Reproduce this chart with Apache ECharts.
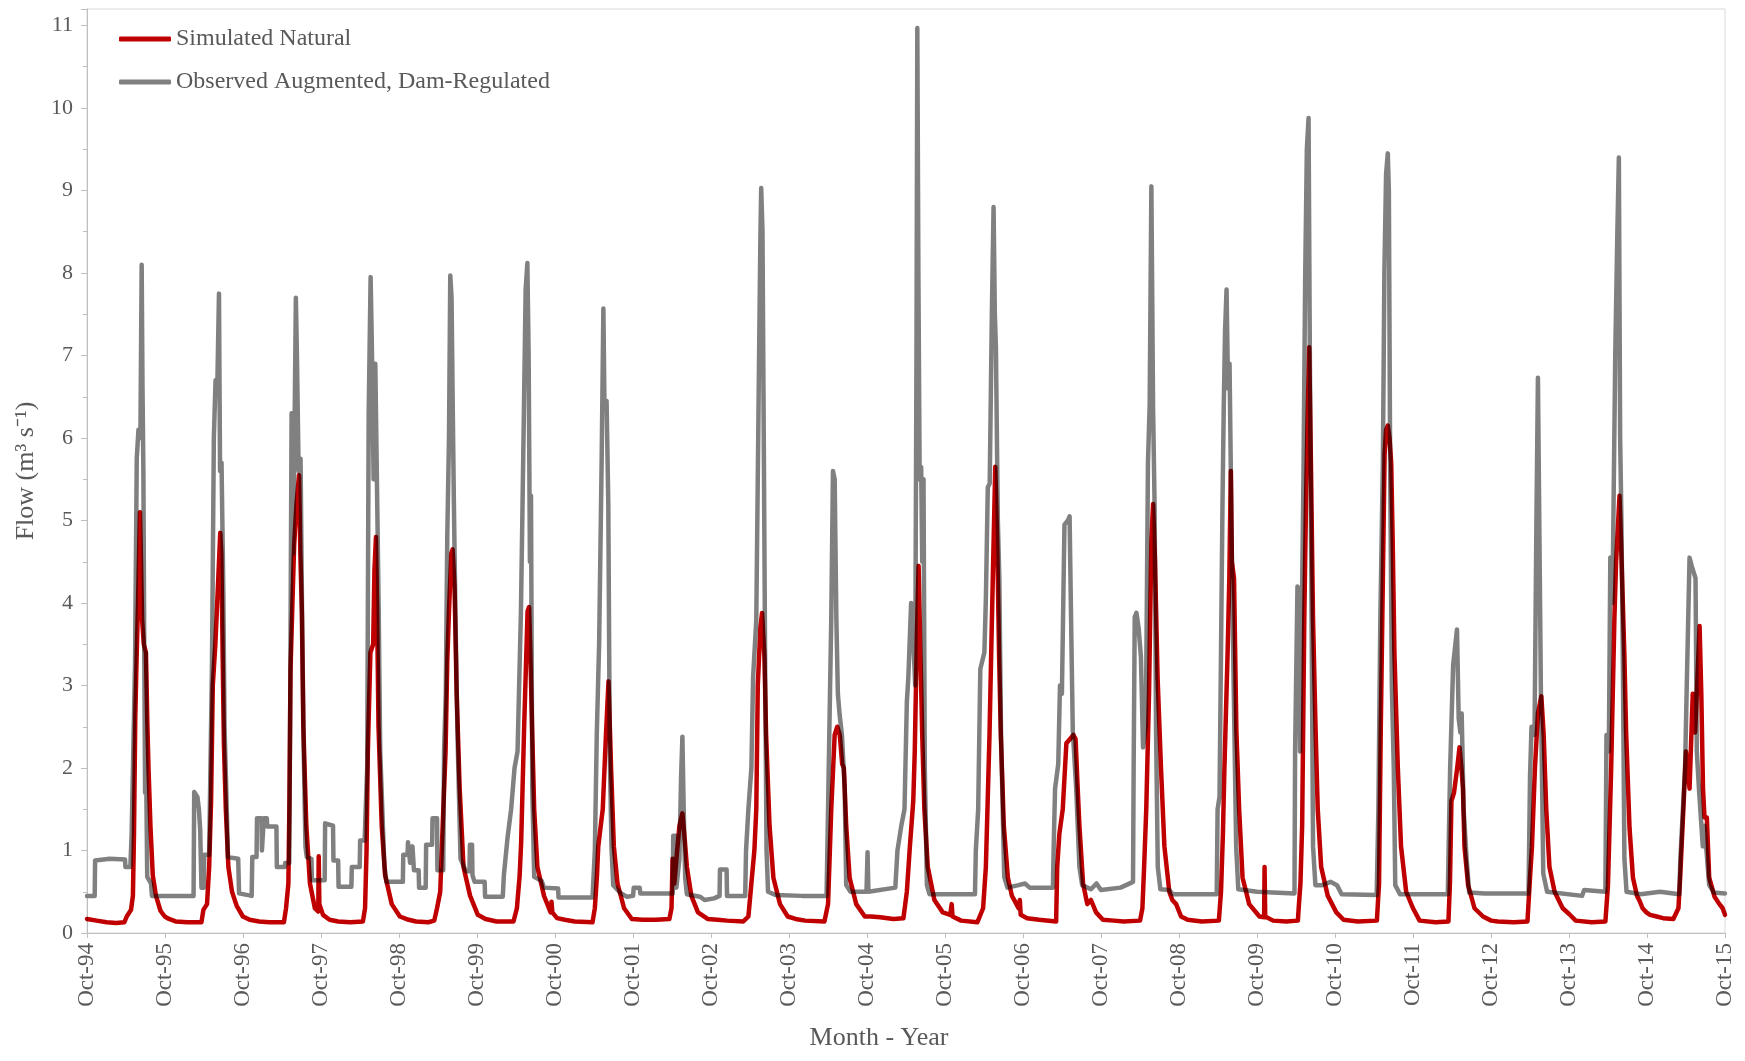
<!DOCTYPE html>
<html>
<head>
<meta charset="utf-8">
<title>Simulated natural vs observed flow</title>
<script src="https://cdn.jsdelivr.net/npm/echarts@6/dist/echarts.min.js"></script>
<style>
  html, body { margin: 0; padding: 0; background: #ffffff; }
  #wrap { position: relative; width: 1745px; height: 1061px; background: #ffffff; }
  #base, #over { position: absolute; left: 0; top: 0; width: 1745px; height: 1061px; }
  /* the simulated series is multiplied onto the observed one so overlaps read dark */
  #over { mix-blend-mode: multiply; pointer-events: none; }
</style>
</head>
<body>
<div id="wrap">
  <div id="base"></div>
  <div id="over"></div>
</div>
<script>
// Daily flow, m3/s, read as breakpoints of each water year (Oct 1994 - Sep 2015)
const simulatedNatural = [
  ['1994-10-01',0.17],['1994-11-15',0.15],['1995-01-01',0.13],['1995-02-15',0.12],['1995-03-25',0.13],['1995-04-05',0.2],['1995-04-25',0.28],['1995-05-04',0.45],['1995-05-09',1.2],['1995-05-15',2.6],['1995-05-21',3.3],['1995-05-28',4.0],['1995-06-06',5.1],['1995-06-10',4.6],['1995-06-16',3.8],['1995-06-24',3.5],['1995-07-04',3.4],['1995-07-10',2.6],['1995-07-16',2.0],['1995-07-25',1.3],['1995-08-05',0.7],['1995-08-20',0.45],['1995-09-10',0.27],['1995-09-30',0.2],
  ['1995-10-20',0.17],['1995-11-20',0.14],['1996-01-15',0.13],['1996-03-20',0.13],['1996-03-29',0.28],['1996-04-15',0.35],['1996-04-25',0.8],['1996-05-04',1.6],['1996-05-12',3.0],['1996-05-24',3.5],['1996-06-05',4.2],['1996-06-16',4.85],['1996-06-21',4.6],['1996-06-27',3.4],['1996-07-03',2.3],['1996-07-12',1.5],['1996-07-24',0.8],['1996-08-10',0.5],['1996-09-01',0.33],['1996-09-30',0.2],
  ['1996-11-01',0.16],['1996-12-15',0.14],['1997-02-01',0.13],['1997-04-10',0.13],['1997-04-20',0.3],['1997-05-01',0.6],['1997-05-06',1.6],['1997-05-11',3.2],['1997-05-20',4.0],['1997-05-28',4.7],['1997-06-08',5.2],['1997-06-20',5.55],['1997-06-26',4.6],['1997-07-03',3.9],['1997-07-10',2.5],['1997-07-24',1.3],['1997-08-10',0.6],['1997-09-02',0.3],['1997-09-18',0.26],['1997-09-20',0.93],['1997-09-23',0.35],['1997-10-10',0.22],
  ['1997-11-10',0.16],['1997-12-20',0.14],['1998-02-15',0.13],['1998-04-15',0.14],['1998-04-25',0.3],['1998-05-02',1.0],['1998-05-08',2.2],['1998-05-20',3.4],['1998-06-02',3.5],['1998-06-08',4.4],['1998-06-15',4.8],['1998-06-20',4.0],['1998-06-27',2.5],['1998-07-12',1.3],['1998-07-28',0.7],['1998-08-28',0.35],['1998-10-05',0.2],
  ['1998-11-15',0.16],['1998-12-20',0.14],['1999-02-15',0.13],['1999-03-15',0.15],['1999-03-28',0.3],['1999-04-12',0.5],['1999-04-22',1.2],['1999-05-01',1.8],['1999-05-07',2.2],['1999-05-15',3.3],['1999-05-23',3.9],['1999-06-03',4.6],['1999-06-09',4.65],['1999-06-18',4.2],['1999-06-28',2.9],['1999-07-12',1.75],['1999-07-30',0.8],['1999-08-30',0.45],['1999-10-05',0.22],
  ['1999-11-10',0.17],['2000-01-01',0.14],['2000-03-20',0.14],['2000-04-05',0.3],['2000-04-18',0.7],['2000-04-25',1.1],['2000-05-09',2.5],['2000-05-25',3.9],['2000-06-01',3.95],['2000-06-07',3.4],['2000-06-15',2.5],['2000-06-25',1.5],['2000-07-10',0.8],['2000-08-10',0.45],['2000-09-10',0.25],['2000-09-14',0.38],['2000-09-18',0.25],['2000-10-10',0.18],
  ['2000-11-15',0.16],['2001-01-01',0.14],['2001-03-25',0.13],['2001-04-05',0.3],['2001-04-15',0.7],['2001-04-21',1.05],['2001-05-12',1.5],['2001-05-27',2.4],['2001-06-08',3.05],['2001-06-20',2.0],['2001-07-03',1.05],['2001-07-20',0.6],['2001-08-20',0.3],['2001-09-25',0.17],
  ['2001-11-15',0.16],['2002-01-15',0.16],['2002-03-20',0.17],['2002-03-30',0.3],['2002-04-04',0.9],['2002-04-12',0.6],['2002-04-22',0.9],['2002-05-06',1.3],['2002-05-20',1.45],['2002-06-01',1.1],['2002-06-10',0.8],['2002-07-01',0.45],['2002-08-01',0.25],['2002-09-15',0.17],
  ['2002-11-01',0.16],['2002-12-15',0.15],['2003-03-01',0.14],['2003-03-25',0.2],['2003-04-08',0.6],['2003-04-22',1.0],['2003-05-01',1.5],['2003-05-08',3.0],['2003-05-20',3.7],['2003-05-28',3.88],['2003-06-08',3.35],['2003-06-16',2.4],['2003-07-02',1.3],['2003-07-20',0.67],['2003-08-20',0.35],['2003-09-25',0.2],
  ['2003-11-01',0.17],['2003-12-15',0.15],['2004-03-15',0.14],['2004-04-01',0.35],['2004-04-16',1.5],['2004-05-02',2.4],['2004-05-14',2.5],['2004-05-26',2.4],['2004-06-06',2.05],['2004-06-14',2.0],['2004-06-25',1.3],['2004-07-11',0.67],['2004-08-11',0.35],['2004-09-20',0.2],
  ['2004-10-20',0.2],['2004-12-01',0.19],['2005-02-01',0.17],['2005-03-20',0.18],['2005-04-05',0.5],['2005-04-19',1.04],['2005-05-05',1.6],['2005-05-12',2.2],['2005-05-22',3.6],['2005-05-30',4.45],['2005-06-07',3.45],['2005-06-16',2.4],['2005-06-26',1.5],['2005-07-12',0.8],['2005-08-12',0.4],['2005-09-20',0.25],
  ['2005-10-25',0.22],['2005-11-01',0.35],['2005-11-05',0.2],['2005-12-15',0.15],['2006-03-01',0.13],['2006-03-28',0.3],['2006-04-10',0.8],['2006-04-27',2.4],['2006-05-05',3.4],['2006-05-15',4.6],['2006-05-24',5.65],['2006-06-02',4.75],['2006-06-11',3.35],['2006-06-19',2.4],['2006-07-03',1.3],['2006-07-22',0.67],['2006-08-10',0.45],['2006-08-25',0.38],['2006-09-10',0.3],['2006-09-16',0.4],['2006-09-20',0.22],
  ['2006-10-20',0.18],['2006-12-15',0.16],['2007-03-05',0.14],['2007-03-10',0.8],['2007-03-20',1.2],['2007-04-05',1.5],['2007-04-22',2.3],['2007-05-25',2.4],['2007-06-04',2.35],['2007-06-14',1.75],['2007-06-22',1.3],['2007-07-09',0.6],['2007-07-29',0.35],['2007-08-15',0.4],['2007-09-08',0.25],['2007-10-10',0.16],
  ['2007-12-01',0.15],['2008-01-15',0.14],['2008-04-01',0.15],['2008-04-12',0.3],['2008-04-20',0.8],['2008-04-30',1.5],['2008-05-13',2.9],['2008-05-24',4.75],['2008-06-01',5.2],['2008-06-10',4.5],['2008-06-22',3.1],['2008-07-08',2.0],['2008-07-24',1.05],['2008-08-16',0.5],['2008-08-30',0.4],['2008-09-17',0.35],['2008-10-10',0.2],
  ['2008-11-10',0.16],['2009-01-15',0.14],['2009-04-05',0.15],['2009-04-15',0.5],['2009-04-24',1.2],['2009-05-01',2.0],['2009-05-16',3.4],['2009-05-24',4.3],['2009-05-31',5.6],['2009-06-05',4.5],['2009-06-15',4.3],['2009-06-26',2.45],['2009-07-09',1.5],['2009-07-25',0.67],['2009-08-25',0.35],['2009-10-12',0.2],['2009-11-03',0.19],['2009-11-05',0.8],['2009-11-08',0.2],
  ['2009-12-15',0.15],['2010-02-15',0.14],['2010-04-10',0.15],['2010-04-15',0.35],['2010-04-22',0.6],['2010-04-30',1.3],['2010-05-10',3.8],['2010-05-18',5.2],['2010-05-26',6.3],['2010-06-02',7.1],['2010-06-10',5.7],['2010-06-20',3.8],['2010-07-02',2.45],['2010-07-12',1.5],['2010-07-28',0.8],['2010-08-28',0.45],['2010-10-07',0.25],
  ['2010-11-10',0.16],['2011-01-15',0.14],['2011-04-15',0.15],['2011-04-25',0.6],['2011-05-03',2.45],['2011-05-13',4.3],['2011-05-21',5.8],['2011-05-28',6.1],['2011-06-05',6.15],['2011-06-13',6.0],['2011-06-21',5.7],['2011-06-28',4.75],['2011-07-06',3.4],['2011-07-22',2.0],['2011-08-06',1.05],['2011-08-30',0.5],['2011-10-01',0.3],
  ['2011-11-01',0.15],['2012-01-15',0.13],['2012-03-15',0.14],['2012-03-22',0.6],['2012-03-29',1.6],['2012-04-10',1.7],['2012-04-25',2.0],['2012-05-06',2.25],['2012-05-15',2.0],['2012-05-22',1.75],['2012-05-29',1.05],['2012-06-15',0.58],['2012-07-15',0.3],['2012-08-24',0.2],['2012-10-01',0.15],
  ['2012-11-01',0.14],['2013-01-15',0.13],['2013-03-20',0.14],['2013-04-01',0.67],['2013-04-10',1.04],['2013-04-24',2.0],['2013-05-08',2.66],['2013-05-24',2.87],['2013-06-04',2.4],['2013-06-16',1.5],['2013-07-01',0.8],['2013-07-25',0.5],['2013-09-01',0.3],['2013-10-01',0.23],
  ['2013-11-01',0.15],['2014-01-15',0.13],['2014-03-20',0.14],['2014-04-01',0.58],['2014-04-16',2.0],['2014-05-01',3.8],['2014-05-09',4.5],['2014-05-25',5.3],['2014-06-01',4.75],['2014-06-09',4.05],['2014-06-17',3.35],['2014-06-25',2.43],['2014-07-11',1.27],['2014-07-27',0.67],['2014-08-15',0.45],['2014-08-27',0.39],['2014-09-10',0.3],['2014-09-28',0.25],
  ['2014-10-15',0.22],['2014-11-15',0.2],['2014-12-15',0.18],['2015-02-01',0.17],['2015-02-25',0.3],['2015-03-05',0.67],['2015-03-20',1.5],['2015-04-01',2.2],['2015-04-18',1.75],['2015-05-03',2.9],['2015-05-14',2.43],['2015-05-22',2.9],['2015-06-04',3.72],['2015-06-12',2.9],['2015-06-20',1.75],['2015-06-27',1.4],['2015-07-08',1.4],['2015-07-19',0.67],['2015-08-13',0.44],['2015-09-05',0.35],['2015-09-20',0.3],['2015-10-01',0.22]
];

const observedAugmented = [
  ['1994-10-01',0.45],['1994-11-06',0.45],['1994-11-08',0.88],['1995-01-15',0.9],['1995-03-28',0.89],['1995-03-30',0.8],['1995-04-22',0.8],['1995-04-28',1.2],['1995-05-08',2.5],['1995-05-14',3.3],['1995-05-22',5.75],['1995-05-30',6.1],['1995-06-08',6.0],['1995-06-14',8.1],['1995-06-18',6.6],['1995-06-22',5.6],['1995-06-26',3.5],['1995-06-30',1.7],['1995-07-03',3.4],['1995-07-06',1.7],['1995-07-10',0.68],['1995-07-28',0.6],['1995-08-01',0.45],
  ['1996-02-12',0.45],['1996-02-15',1.71],['1996-03-01',1.65],['1996-03-08',1.5],['1996-03-14',1.25],['1996-03-20',0.55],['1996-03-30',0.55],['1996-04-02',0.95],['1996-04-25',0.95],['1996-05-01',2.0],['1996-05-08',3.2],['1996-05-17',6.0],['1996-05-25',6.7],['1996-06-02',6.6],['1996-06-10',7.75],['1996-06-15',5.6],['1996-06-22',5.7],['1996-06-30',4.2],['1996-07-06',2.5],['1996-07-14',1.75],['1996-07-22',0.92],['1996-09-08',0.9],['1996-09-12',0.48],['1996-11-10',0.45],
  ['1996-11-13',0.92],['1996-12-03',0.92],['1996-12-05',1.39],['1996-12-26',1.39],['1996-12-28',1.0],['1997-01-04',1.0],['1997-01-06',1.39],['1997-01-20',1.39],['1997-01-22',1.29],['1997-03-06',1.29],['1997-03-08',0.8],['1997-04-14',0.8],['1997-04-16',0.85],['1997-05-05',0.85],['1997-05-09',2.5],['1997-05-16',6.3],['1997-05-24',4.6],['1997-06-05',7.7],['1997-06-10',7.0],['1997-06-18',5.6],['1997-06-27',5.75],['1997-07-04',3.9],['1997-07-12',2.2],['1997-07-20',1.05],['1997-07-26',0.92],['1997-08-17',0.9],['1997-08-19',0.64],['1997-10-18',0.64],['1997-10-20',1.33],['1997-11-26',1.3],['1997-11-28',0.88],['1997-12-20',0.88],['1997-12-22',0.56],['1998-02-20',0.56],['1998-02-22',0.8],['1998-03-31',0.8],['1998-04-02',1.12],['1998-04-23',1.12],
  ['1998-04-28',1.5],['1998-05-05',2.0],['1998-05-12',6.3],['1998-05-21',7.95],['1998-05-27',7.1],['1998-06-04',5.5],['1998-06-12',6.9],['1998-06-20',6.9],['1998-06-28',3.9],['1998-07-05',2.2],['1998-07-21',1.05],['1998-07-25',0.8],['1998-08-01',0.8],['1998-08-03',0.62],['1998-10-19',0.62],
  ['1998-10-21',0.95],['1998-11-10',0.95],['1998-11-12',1.1],['1998-11-20',1.1],['1998-11-22',0.85],['1998-12-01',0.85],['1998-12-03',1.05],['1998-12-08',1.05],['1998-12-10',0.76],['1999-01-01',0.76],['1999-01-03',0.55],['1999-02-03',0.55],['1999-02-05',1.07],['1999-03-05',1.07],['1999-03-07',1.39],['1999-03-28',1.39],['1999-03-30',0.76],['1999-04-26',0.76],['1999-04-30',2.2],['1999-05-08',2.9],['1999-05-15',4.8],['1999-05-23',6.0],['1999-05-29',7.97],['1999-06-04',7.7],['1999-06-10',6.3],['1999-06-15',5.2],['1999-06-22',3.9],['1999-07-01',2.5],['1999-07-08',1.75],['1999-07-16',0.9],['1999-08-10',0.75],['1999-08-27',0.75],['1999-08-29',1.07],['1999-09-08',1.07],['1999-09-10',0.7],['1999-09-20',0.62],['1999-11-06',0.62],['1999-11-08',0.44],
  ['2000-01-30',0.44],['2000-02-04',0.7],['2000-02-21',1.15],['2000-03-09',1.5],['2000-03-25',2.0],['2000-04-08',2.2],['2000-04-24',3.9],['2000-05-02',5.3],['2000-05-08',6.35],['2000-05-16',7.8],['2000-05-24',8.12],['2000-05-30',7.0],['2000-06-05',4.5],['2000-06-10',5.3],['2000-06-16',1.75],['2000-06-25',0.68],['2000-07-30',0.63],['2000-08-10',0.55],['2000-10-15',0.54],['2000-10-17',0.43],
  ['2001-03-25',0.43],['2001-04-05',1.0],['2001-04-14',2.4],['2001-04-25',3.5],['2001-05-07',5.75],['2001-05-15',7.57],['2001-05-20',6.4],['2001-05-30',6.45],['2001-06-07',5.2],['2001-06-14',2.2],['2001-06-22',1.04],['2001-06-30',0.58],['2001-08-01',0.49],['2001-09-01',0.44],['2001-10-01',0.45],['2001-10-04',0.55],['2001-11-01',0.55],['2001-11-04',0.48],
  ['2002-04-05',0.48],['2002-04-07',1.18],['2002-04-20',1.18],['2002-04-22',0.55],['2002-05-06',0.9],['2002-05-14',1.9],['2002-05-20',2.38],['2002-05-26',1.5],['2002-06-02',0.67],['2002-06-10',0.47],['2002-08-10',0.44],['2002-09-01',0.4],['2002-10-15',0.42],['2002-11-10',0.45],['2002-11-12',0.77],['2002-12-13',0.77],['2002-12-15',0.45],
  ['2003-03-10',0.45],['2003-03-14',1.0],['2003-03-25',1.5],['2003-04-08',2.0],['2003-04-16',3.1],['2003-05-01',3.8],['2003-05-12',6.5],['2003-05-20',8.4],['2003-05-24',9.03],['2003-05-30',8.5],['2003-06-05',6.0],['2003-06-12',3.0],['2003-06-18',1.0],['2003-06-25',0.5],['2003-08-01',0.46],['2003-12-01',0.45],
  ['2004-03-25',0.45],['2004-04-01',1.5],['2004-04-10',2.9],['2004-04-16',3.8],['2004-04-24',5.6],['2004-05-02',5.5],['2004-05-10',3.8],['2004-05-17',2.9],['2004-05-25',2.65],['2004-06-05',2.4],['2004-06-18',1.75],['2004-06-25',0.58],['2004-07-15',0.5],['2004-09-28',0.5],['2004-10-03',0.98],['2004-10-07',0.5],
  ['2005-02-10',0.55],['2005-02-20',1.0],['2005-03-10',1.3],['2005-03-25',1.5],['2005-04-05',2.8],['2005-04-12',3.1],['2005-04-25',4.0],['2005-05-06',3.5],['2005-05-14',3.0],['2005-05-20',7.0],['2005-05-24',10.97],['2005-05-29',8.0],['2005-06-04',5.5],['2005-06-11',5.65],['2005-06-16',4.5],['2005-06-22',5.5],['2005-06-28',2.0],['2005-07-08',0.58],['2005-07-20',0.47],
  ['2006-02-18',0.47],['2006-02-22',1.0],['2006-03-05',1.5],['2006-03-15',3.2],['2006-04-03',3.4],['2006-04-10',4.05],['2006-04-19',5.4],['2006-04-28',5.45],['2006-05-08',7.5],['2006-05-16',8.8],['2006-05-22',7.5],['2006-05-27',7.1],['2006-06-05',5.0],['2006-06-12',4.3],['2006-06-20',2.4],['2006-07-05',0.68],['2006-07-20',0.55],['2006-09-10',0.58],['2006-10-10',0.6],['2006-11-01',0.55],
  ['2007-02-18',0.55],['2007-02-22',1.1],['2007-02-28',1.75],['2007-03-15',2.05],['2007-03-23',3.0],['2007-04-01',2.9],['2007-04-13',4.95],['2007-04-29',5.0],['2007-05-07',5.05],['2007-05-14',3.8],['2007-05-22',2.45],['2007-06-07',1.75],['2007-06-22',0.8],['2007-07-05',0.58],['2007-08-15',0.53],['2007-09-10',0.6],['2007-10-01',0.52],['2008-01-01',0.55],
  ['2008-02-28',0.62],['2008-03-02',2.0],['2008-03-07',3.83],['2008-03-15',3.88],['2008-03-25',3.7],['2008-04-05',3.35],['2008-04-15',2.25],['2008-04-28',2.5],['2008-05-08',5.7],['2008-05-16',6.4],['2008-05-24',9.05],['2008-06-01',6.35],['2008-06-08',5.2],['2008-06-15',2.45],['2008-06-23',0.8],['2008-07-05',0.53],['2008-08-15',0.52],['2008-09-01',0.47],
  ['2009-03-26',0.47],['2009-03-30',1.5],['2009-04-08',1.65],['2009-04-15',3.4],['2009-04-22',5.2],['2009-04-28',6.4],['2009-05-04',7.3],['2009-05-11',7.8],['2009-05-18',6.6],['2009-05-25',6.9],['2009-05-31',5.6],['2009-06-06',4.3],['2009-06-14',2.9],['2009-06-25',1.05],['2009-07-05',0.53],['2009-10-01',0.5],
  ['2010-03-25',0.48],['2010-03-28',2.2],['2010-04-08',4.2],['2010-04-15',4.1],['2010-04-20',2.2],['2010-04-28',3.8],['2010-05-06',5.5],['2010-05-14',7.9],['2010-05-22',9.5],['2010-05-30',9.88],['2010-06-05',7.0],['2010-06-12',4.3],['2010-06-20',1.05],['2010-07-01',0.58],['2010-08-01',0.58],['2010-09-10',0.62],['2010-10-10',0.58],['2010-11-01',0.47],
  ['2011-04-14',0.46],['2011-04-22',1.5],['2011-05-01',3.8],['2011-05-13',5.7],['2011-05-20',8.0],['2011-05-28',9.2],['2011-06-05',9.45],['2011-06-10',9.0],['2011-06-16',5.7],['2011-06-24',3.0],['2011-07-03',2.0],['2011-07-10',0.58],['2011-08-01',0.47],
  ['2012-03-12',0.47],['2012-03-23',2.0],['2012-04-06',3.25],['2012-04-24',3.68],['2012-05-02',2.6],['2012-05-10',2.43],['2012-05-16',2.66],['2012-05-25',1.5],['2012-06-08',0.9],['2012-06-20',0.49],['2012-09-01',0.48],
  ['2013-03-25',0.48],['2013-04-01',1.9],['2013-04-08',2.5],['2013-04-22',2.4],['2013-05-01',5.0],['2013-05-08',6.73],['2013-05-14',5.1],['2013-05-22',2.9],['2013-06-02',0.72],['2013-06-20',0.5],['2013-12-01',0.45],['2013-12-10',0.52],['2014-03-20',0.5],
  ['2014-03-25',2.4],['2014-04-05',2.2],['2014-04-12',4.55],['2014-04-22',4.0],['2014-05-05',7.0],['2014-05-15',8.5],['2014-05-22',9.4],['2014-05-28',6.0],['2014-06-03',5.0],['2014-06-09',3.5],['2014-06-17',0.9],['2014-06-27',0.5],['2014-09-01',0.47],['2014-12-01',0.5],['2015-03-01',0.47],
  ['2015-03-06',0.9],['2015-03-18',1.5],['2015-03-28',2.0],['2015-04-05',3.0],['2015-04-18',4.55],['2015-04-28',4.45],['2015-05-10',4.35],['2015-05-16',4.3],['2015-05-22',2.2],['2015-06-01',1.75],['2015-06-19',1.05],['2015-06-27',1.3],['2015-07-19',0.58],['2015-08-10',0.49],['2015-10-01',0.48]
];

const seriesNames = ['Simulated Natural', 'Observed Augmented, Dam-Regulated'];
const periodStart = '1994-10-01';
const periodEnd = '2015-10-01';
const monthNames = ['Jan','Feb','Mar','Apr','May','Jun','Jul','Aug','Sep','Oct','Nov','Dec'];
const flowMax = 11.2;

const DAY = 86400000;
const ORIGIN = Date.parse(periodStart);
const toDay = s => (Date.parse(s) - ORIGIN) / DAY;
const toPoints = rows => rows.map(r => [toDay(r[0]), r[1]]);

const FONT = '"Liberation Serif", "Times New Roman", serif';
const INK = '#595959';
const GRID = { left: 87, right: 20, top: 9, bottom: 128, show: true, borderColor: '#D9D9D9', borderWidth: 1 };

function axes(visible) {
  return {
    xAxis: {
      type: 'value',
      min: 0,
      max: toDay(periodEnd),
      interval: 365.25,
      name: visible ? 'Month - Year' : '',
      nameLocation: 'middle',
      nameGap: 92,
      nameTextStyle: { fontFamily: FONT, fontSize: 26, color: INK, padding: [0, 54, 0, 0] },
      axisLine: { show: visible, lineStyle: { color: '#BFBFBF', width: 1 } },
      axisTick: { show: visible, length: 5, lineStyle: { color: '#BFBFBF' } },
      splitLine: { show: false },
      axisLabel: {
        show: visible,
        rotate: 90,
        margin: 10,
        fontFamily: FONT,
        fontSize: 23,
        color: INK,
        formatter: v => {
          const d = new Date(ORIGIN + Math.round(v) * DAY);
          return monthNames[d.getUTCMonth()] + '-' + String(d.getUTCFullYear()).slice(2);
        }
      }
    },
    yAxis: {
      type: 'value',
      min: 0,
      max: flowMax,
      interval: 1,
      name: visible ? 'Flow (m³ s⁻¹)' : '',
      nameLocation: 'middle',
      nameGap: 48,
      nameRotate: 90,
      nameTextStyle: { fontFamily: FONT, fontSize: 26, color: INK },
      axisLine: { show: visible, lineStyle: { color: '#BFBFBF', width: 1 } },
      axisTick: { show: visible, length: 6, lineStyle: { color: '#BFBFBF' } },
      minorTick: { show: visible, splitNumber: 2, length: 4, lineStyle: { color: '#BFBFBF' } },
      splitLine: { show: false },
      axisLabel: {
        show: visible,
        margin: 14,
        fontFamily: FONT,
        fontSize: 22,
        color: INK,
        showMaxLabel: false,
        formatter: v => (Number.isInteger(v) ? String(v) : '')
      }
    }
  };
}

function lineSeries(name, rows, color) {
  return {
    name: name,
    type: 'line',
    data: toPoints(rows),
    showSymbol: false,
    symbol: 'none',
    sampling: null,
    lineStyle: { color: color, width: 4.5, join: 'round', cap: 'round' },
    itemStyle: { color: color },
    animation: false
  };
}

function legendAt(top, name, color) {
  return {
    data: [{ name: name, icon: 'roundRect', itemStyle: { color: color } }],
    left: 119,
    top: top,
    padding: 0,
    itemWidth: 52,
    itemHeight: 5,
    selectedMode: false,
    textStyle: { fontFamily: FONT, fontSize: 24, color: INK }
  };
}

// Base layer: frame, axes, observed series
const base = echarts.init(document.getElementById('base'), null, { renderer: 'canvas' });
base.setOption(Object.assign({
  backgroundColor: '#ffffff',
  animation: false,
  grid: GRID,
  legend: legendAt(70, seriesNames[1], '#808080'),
  series: [lineSeries(seriesNames[1], observedAugmented, '#808080')]
}, axes(true)));

// Overlay layer: simulated series on the same scales, multiplied onto the base
const over = echarts.init(document.getElementById('over'), null, { renderer: 'canvas' });
over.setOption(Object.assign({
  backgroundColor: 'transparent',
  animation: false,
  grid: Object.assign({}, GRID, { show: false }),
  legend: legendAt(27, seriesNames[0], '#C00000'),
  series: [lineSeries(seriesNames[0], simulatedNatural, '#C00000')]
}, axes(false)));
</script>
</body>
</html>
